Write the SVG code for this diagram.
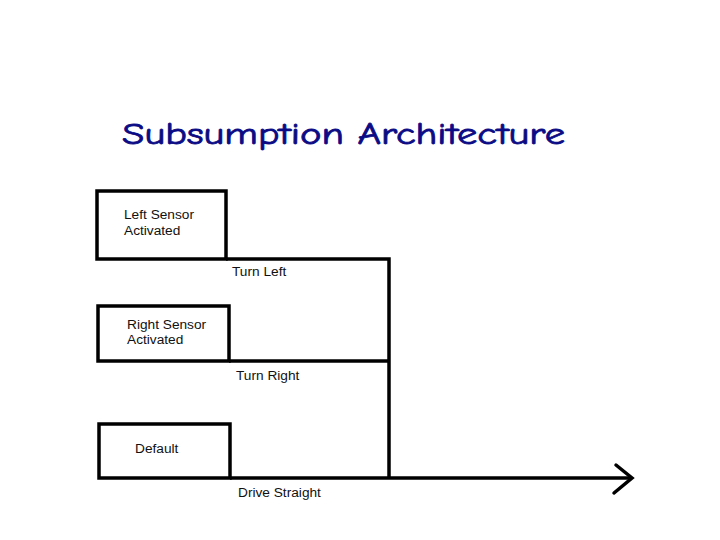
<svg xmlns="http://www.w3.org/2000/svg" width="720" height="540" viewBox="0 0 720 540">
  <style>
    .box { fill: #ffffff; stroke: #000000; stroke-width: 3.5; }
    .lbl { font-family: "Liberation Sans", Arial, sans-serif; font-size: 13.7px; fill: #111111; }
    .wire { fill: none; stroke: #000000; stroke-width: 3.5; stroke-linejoin: miter; }
    .title { font-family: "Comic Neue", "DejaVu Sans", sans-serif; font-size: 31px; fill: #0b0b85; stroke: #0b0b85; stroke-width: 0.8; }
  </style>
  <defs>
    <marker id="chev" markerUnits="userSpaceOnUse" viewBox="-22 -20 26 40" refX="0" refY="0" markerWidth="26" markerHeight="40" orient="auto" overflow="visible">
      <path d="M-16,-13 L0,0 L-18,15" fill="none" stroke="#000000" stroke-width="3.5" stroke-linecap="round" stroke-linejoin="miter"/>
    </marker>
  </defs>
  <rect width="720" height="540" fill="#ffffff"/>
  <text class="title" x="122" y="144" textLength="443" lengthAdjust="spacingAndGlyphs">Subsumption Architecture</text>

  <g id="connectors">
    <path class="wire" d="M226,259 H389 V478"/>
    <path class="wire" d="M229,361 H389"/>
    <path class="wire" d="M230,478 H632" marker-end="url(#chev)"/>
  </g>

  <g id="left-sensor">
    <rect class="box" x="97" y="191" width="129" height="68"/>
    <text class="lbl" x="124" y="219">Left Sensor</text>
    <text class="lbl" x="124" y="235">Activated</text>
  </g>
  <g id="right-sensor">
    <rect class="box" x="98" y="306" width="131" height="55"/>
    <text class="lbl" x="127" y="329">Right Sensor</text>
    <text class="lbl" x="127" y="344">Activated</text>
  </g>
  <g id="default">
    <rect class="box" x="99" y="424" width="131" height="54"/>
    <text class="lbl" x="135" y="453">Default</text>
  </g>

  <g id="labels">
    <text class="lbl" x="232" y="276">Turn Left</text>
    <text class="lbl" x="236" y="380">Turn Right</text>
    <text class="lbl" x="238" y="497">Drive Straight</text>
  </g>
</svg>
